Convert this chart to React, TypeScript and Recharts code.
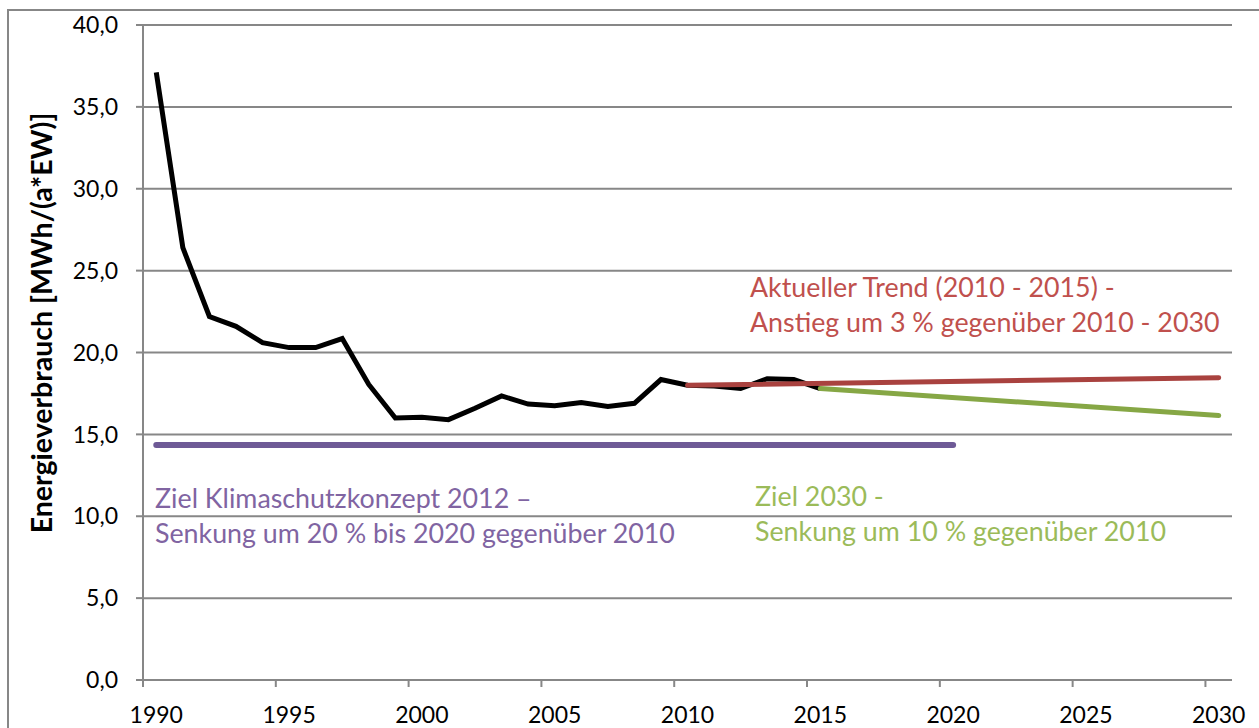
import React from 'react';
import { LineChart, Line, XAxis, YAxis, CartesianGrid } from 'recharts';

// ---- data ----
const years = [1990, 1991, 1992, 1993, 1994, 1995, 1996, 1997, 1998, 1999, 2000, 2001, 2002, 2003, 2004, 2005, 2006, 2007, 2008, 2009, 2010, 2011, 2012, 2013, 2014, 2015];
const consumption = [37.1, 26.4, 22.2, 21.6, 20.6, 20.3, 20.3, 20.85, 18.05, 16.0, 16.05, 15.9, 16.6, 17.35, 16.85, 16.75, 16.95, 16.7, 16.9, 18.35, 18.0, 17.95, 17.8, 18.4, 18.35, 17.8];

const trendYears = [2010, 2030];
const trendValues = [18.0, 18.46];

const target2030Years = [2015, 2030];
const target2030Values = [17.8, 16.15];

const target2020Years = [1990, 2020];
const target2020Values = [14.35, 14.35];

const yTicks = [0, 5, 10, 15, 20, 25, 30, 35, 40];
const xLabelYears = [1990, 1995, 2000, 2005, 2010, 2015, 2020, 2025, 2030];

const yAxisTitle = 'Energieverbrauch [MWh/(a*EW)]';
const trendText = ['Aktueller Trend (2010 - 2015) -', 'Anstieg um 3 % gegenüber 2010 - 2030'];
const target2020Text = ['Ziel Klimaschutzkonzept 2012 –', 'Senkung um 20 % bis 2020 gegenüber 2010'];
const target2030Text = ['Ziel 2030 -', 'Senkung um 10 % gegenüber 2010'];

// ---- build series ----
const zip = (xs: number[], vs: number[]) => xs.map((x, i) => ({ x, v: vs[i] }));
const consumptionData = zip(years, consumption);
const trendData = zip(trendYears, trendValues);
const target2030Data = zip(target2030Years, target2030Values);
const target2020Data = zip(target2020Years, target2020Values);

// ---- layout ----
const W = 1259;
const H = 760;
const PLOT_LEFT = 143;
const PLOT_RIGHT = 1232;
const PLOT_TOP = 25;
const PLOT_BOTTOM = 680;
const Y_AXIS_W = 80;
const X_AXIS_H = 50;
const FONT = 'Lato, "Open Sans", sans-serif';
const GRAY = '#878787';
const HALF_CAT = (PLOT_RIGHT - PLOT_LEFT) / 41 / 2;

const xTickPositions = xLabelYears.map((y) => y - 0.5);

const fmt = (v: number) => v.toFixed(1).replace('.', ',');

const XTick = (props: any) => {
  const { x, y, payload } = props;
  return (
    <text x={x + HALF_CAT} y={y} dy="0.71em" textAnchor="middle" fontFamily={FONT} fontSize={23} fill="#000">
      {Math.round(payload.value + 0.5)}
    </text>
  );
};

export default function App() {
  return (
    <div style={{ position: 'absolute', left: 0, top: 0, width: 1259, height: 728, overflow: 'hidden', background: '#fff' }}>
      <div style={{ position: 'absolute', left: 7, top: 9, width: 1300, height: 900, border: `2px solid ${GRAY}`, boxSizing: 'border-box' }} />
      <div style={{ position: 'absolute', left: 0, top: 0 }}>
        <LineChart
          width={W}
          height={H}
          margin={{ top: PLOT_TOP, right: W - PLOT_RIGHT, left: PLOT_LEFT - Y_AXIS_W, bottom: H - PLOT_BOTTOM - X_AXIS_H }}
        >
          <CartesianGrid horizontal vertical={false} stroke={GRAY} strokeWidth={2} />
          <XAxis
            type="number"
            dataKey="x"
            domain={[1989.5, 2030.5]}
            ticks={xTickPositions}
            allowDataOverflow
            height={X_AXIS_H}
            stroke={GRAY}
            strokeWidth={2}
            tickSize={7}
            tickMargin={20}
            tick={<XTick />}
            interval={0}
          />
          <YAxis
            type="number"
            domain={[0, 40]}
            ticks={yTicks}
            width={Y_AXIS_W}
            stroke={GRAY}
            strokeWidth={2}
            tickSize={7}
            tickMargin={18}
            tickFormatter={fmt}
            tick={{ fontFamily: FONT, fontSize: 23, fill: '#000' }}
            interval={0}
          />
          <Line data={target2020Data} dataKey="v" stroke="#6E5A96" strokeWidth={6} dot={false} strokeLinecap="round" isAnimationActive={false} />
          <Line data={consumptionData} dataKey="v" stroke="#000" strokeWidth={5} dot={false} isAnimationActive={false} />
          <Line data={trendData} dataKey="v" stroke="#A9423F" strokeWidth={5} dot={false} strokeLinecap="round" isAnimationActive={false} />
          <Line data={target2030Data} dataKey="v" stroke="#86A745" strokeWidth={5} dot={false} strokeLinecap="round" isAnimationActive={false} />
        </LineChart>
      </div>
      <svg width={1259} height={728} style={{ position: 'absolute', left: 0, top: 0, pointerEvents: 'none' }}>
        <text transform="translate(52,323) rotate(-90)" textAnchor="middle" fontFamily={FONT} fontWeight="bold" fontSize={28.5} fill="#000">
          {yAxisTitle}
        </text>
        <g fontFamily={FONT} fontSize={26.8}>
          <text x={750} y={296.5} fill="#C0504D">{trendText[0]}</text>
          <text x={750} y={332} fill="#C0504D">{trendText[1]}</text>
          <text x={155} y={508} fill="#8064A2">{target2020Text[0]}</text>
          <text x={155} y={543} fill="#8064A2">{target2020Text[1]}</text>
          <text x={755} y={506} fill="#9BBB59">{target2030Text[0]}</text>
          <text x={755} y={541} fill="#9BBB59">{target2030Text[1]}</text>
        </g>
      </svg>
    </div>
  );
}
